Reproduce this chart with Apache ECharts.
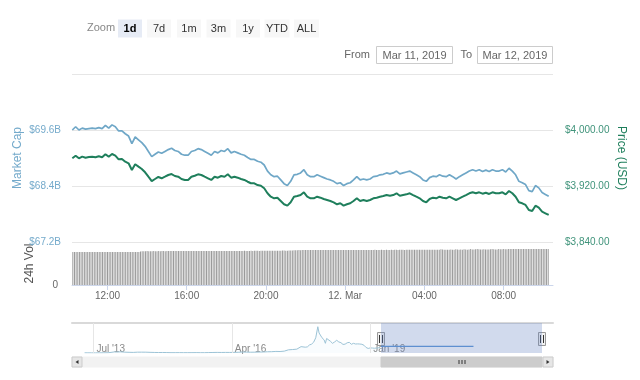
<!DOCTYPE html>
<html><head><meta charset="utf-8">
<script src="https://cdn.jsdelivr.net/npm/echarts@6/dist/echarts.min.js"></script>
<style>html,body{margin:0;padding:0;background:#fff;}#c{width:640px;height:380px;}</style>
</head><body><div id="c"></div>
<script>
// ---------- DATA ----------
const seriesStartUTC = [2019, 2, 11, 10, 15]; // Mar 11 2019 10:15 UTC
const lineStepMin = 10;
const volStepMin = 5;
const axisRangeUTC = [[2019, 2, 11, 10, 14], [2019, 2, 12, 10, 28]];

const priceUSD = [
3959.6,3963.3,3959.6,3961.9,3960.4,3961.4,3961.9,3961.0,3962.4,3961.0,3965.3,3961.9,
3965.7,3963.3,3958.1,3958.6,3954.7,3952.4,3942.9,3951.0,3947.6,3944.3,3939.6,3933.3,
3927.1,3930.0,3932.9,3931.0,3933.3,3935.7,3937.1,3934.3,3933.3,3930.0,3928.6,3928.6,
3933.3,3934.7,3936.7,3935.7,3933.3,3931.0,3928.6,3933.3,3931.9,3934.3,3933.3,3936.7,
3931.9,3933.3,3931.9,3930.0,3928.6,3926.1,3923.9,3923.9,3921.4,3920.4,3916.7,3909.6,
3904.7,3902.4,3903.3,3898.6,3893.9,3891.9,3896.7,3904.7,3905.7,3907.1,3911.0,3904.7,
3902.4,3902.4,3904.7,3903.3,3901.4,3900.0,3898.6,3896.7,3893.9,3895.3,3891.9,3893.9,
3895.3,3898.6,3902.4,3898.6,3900.0,3898.6,3900.0,3902.4,3903.3,3904.7,3905.7,3907.1,
3906.1,3907.1,3909.6,3906.1,3907.1,3908.1,3909.6,3907.1,3904.7,3902.4,3898.6,3896.7,
3901.4,3903.3,3902.4,3904.7,3903.3,3902.4,3904.7,3902.4,3900.0,3902.4,3904.7,3907.1,
3909.6,3911.0,3909.6,3911.0,3909.0,3910.4,3908.6,3911.0,3909.6,3909.6,3911.0,3908.1,
3912.9,3909.6,3904.7,3896.7,3895.3,3892.9,3885.7,3884.3,3891.9,3889.0,3883.3,3881.0,
3878.6];

const marketCapB = [
69.60,69.67,69.60,69.64,69.62,69.63,69.64,69.63,69.65,69.63,69.70,69.64,
69.71,69.67,69.58,69.58,69.52,69.47,69.31,69.45,69.39,69.33,69.25,69.14,
69.03,69.08,69.13,69.10,69.14,69.18,69.21,69.16,69.14,69.08,69.06,69.06,
69.14,69.16,69.20,69.18,69.14,69.10,69.06,69.14,69.11,69.16,69.14,69.20,
69.11,69.14,69.11,69.08,69.06,69.01,68.97,68.97,68.93,68.91,68.85,68.72,
68.64,68.60,68.61,68.53,68.45,68.41,68.50,68.64,68.65,68.68,68.75,68.64,
68.60,68.60,68.64,68.61,68.58,68.55,68.53,68.50,68.45,68.47,68.41,68.45,
68.47,68.53,68.60,68.53,68.55,68.53,68.55,68.60,68.61,68.64,68.65,68.68,
68.66,68.68,68.72,68.66,68.68,68.70,68.72,68.68,68.64,68.60,68.53,68.50,
68.58,68.61,68.60,68.64,68.61,68.60,68.64,68.60,68.55,68.60,68.64,68.68,
68.72,68.75,68.72,68.75,68.71,68.74,68.71,68.75,68.72,68.72,68.75,68.70,
68.78,68.72,68.64,68.50,68.47,68.43,68.30,68.28,68.41,68.36,68.26,68.22,
68.18];

const volumeB = [
9.18,9.19,9.18,9.20,9.19,9.18,9.19,9.20,9.19,9.18,9.19,9.20,
9.19,9.20,9.18,9.19,9.20,9.19,9.18,9.19,9.20,9.19,9.18,9.19,
9.20,9.19,9.18,9.19,9.20,9.21,9.20,9.19,9.20,9.21,9.20,9.19,
9.20,9.21,9.20,9.22,9.20,9.38,9.42,9.45,9.44,9.46,9.45,9.44,
9.45,9.46,9.44,9.45,9.46,9.45,9.47,9.46,9.45,9.46,9.47,9.46,
9.46,9.47,9.46,9.48,9.47,9.46,9.47,9.48,9.47,9.48,9.46,9.47,
9.48,9.47,9.48,9.49,9.48,9.47,9.48,9.49,9.48,9.49,9.50,9.48,
9.49,9.50,9.49,9.48,9.50,9.49,9.50,9.51,9.50,9.49,9.50,9.51,
9.50,9.51,9.52,9.51,9.50,9.52,9.51,9.52,9.53,9.52,9.51,9.52,
9.53,9.52,9.53,9.54,9.53,9.52,9.54,9.53,9.54,9.55,9.54,9.53,
9.55,9.56,9.55,9.57,9.56,9.58,9.57,9.62,9.60,9.58,9.59,9.60,
9.61,9.62,9.68,9.72,9.70,9.74,9.73,9.74,9.75,9.74,9.76,9.75,
9.76,9.75,9.77,9.76,9.75,9.77,9.76,9.78,9.77,9.76,9.77,9.78,
9.77,9.78,9.77,9.79,9.78,9.77,9.78,9.79,9.78,9.77,9.79,9.78,
9.78,9.79,9.78,9.77,9.79,9.78,9.80,9.79,9.78,9.79,9.80,9.79,
9.79,9.80,9.79,9.81,9.80,9.79,9.80,9.81,9.80,9.79,9.81,9.80,
9.80,9.81,9.80,9.82,9.81,9.80,9.81,9.82,9.81,9.80,9.82,9.81,
9.81,9.82,9.81,9.83,9.82,9.81,9.82,9.83,9.82,9.81,9.83,9.82,
9.83,9.82,9.84,9.83,9.82,9.84,9.83,9.95,9.88,9.84,9.86,9.85,
9.86,9.92,9.87,9.85,9.96,9.88,9.86,9.90,9.87,9.98,9.89,9.87,
9.90,10.02,9.92,9.88,9.95,10.05,9.96,9.90,9.93,9.97,9.91,9.89,
9.92,9.96,10.03,9.98,9.94,9.90,10.05,9.99,9.96,10.04,10.00,9.97,
10.02,10.05,10.03,10.06,10.04,10.02,10.05,10.07,10.04,10.03,10.06,10.05,
10.04,10.06,10.05,10.07,10.05,10.04,10.06,10.05,10.07,10.06,10.05,10.06,
10.06];

const monthNames = ['Jan','Feb','Mar','Apr','May','Jun','Jul','Aug','Sep','Oct','Nov','Dec'];
const zoomButtons = ['1d','7d','1m','3m','1y','YTD','ALL'];
const selectedButton = '1d';
const fromDate = 'Mar 11, 2019';
const toDate = 'Mar 12, 2019';

// navigator: months since Jan 2013 and BTC price (USD)
const navMonths = [3.9,4.5,5.5,6.5,7.5,8.5,9.5,10.2,10.6,11.0,11.5,12.5,13.5,14.5,15.5,16.5,17.5,18.5,19.5,20.5,
21.5,22.5,23.5,24.5,25.5,26.5,27.5,28.5,29.5,30.5,31.5,32.5,33.5,34.5,35.5,36.5,37.5,38.5,39.5,40.5,
41.5,42.5,43.5,44.5,45.5,46.5,47.5,48.5,49.5,50.5,51.5,52.5,53.5,54.5,55.5,56.5,57.0,57.5,58.0,58.5,
59.0,59.5,59.8,60.0,60.5,61.0,61.3,61.6,62.0,62.5,63.0,63.5,64.0,64.5,65.0,65.5,66.0,66.5,67.0,67.5,
68.0,68.5,69.0,69.5,70.0,70.5,71.0,71.5,72.0,72.5,73.0,73.5,74.0,74.35];
const navPrice = [135,120,100,90,115,130,190,450,1100,800,700,850,600,500,440,600,620,590,480,400,
350,375,320,230,245,260,230,240,245,285,235,236,310,380,430,390,420,415,450,530,
680,640,575,610,700,740,900,950,1150,1080,1350,2300,2500,2800,4600,4200,4400,5800,6400,7800,
11000,19000,14500,13800,11000,9500,7000,10500,10300,8500,7000,8000,9200,8000,7500,6200,6400,7400,7700,6300,
7000,6500,6600,6500,6300,5600,4000,3300,3700,3600,3450,3600,3800,3900];
const navRecentMonths = [74.56, 96.6];
const navRecentPrice = [4800, 4800];
const navTickMonths = [6, 39, 72];
const navTickLabels = ["Jul '13", "Apr '16", "Jan '19"];
const navSelection = [74.56, 112.94];
const navRange = [0.9, 115.56];

// ---------- BUILD ----------
const t0 = Date.UTC.apply(null, seriesStartUTC);
const priceData = priceUSD.map((v, i) => [t0 + i * lineStepMin * 60000, v]);
const mcapData = marketCapB.map((v, i) => [t0 + i * lineStepMin * 60000, v]);
const volData = volumeB.map((v, i) => [t0 + i * volStepMin * 60000, v]);
const tMin = Date.UTC.apply(null, axisRangeUTC[0]);
const tMax = Date.UTC.apply(null, axisRangeUTC[1]);
const navData = navMonths.map((m, i) => [m, navPrice[i]]);
const navRecent = navRecentMonths.map((m, i) => [m, navRecentPrice[i]]);

const FONT = '"Liberation Sans", Arial, sans-serif';
const BLUE = '#6fa7c7';
const GREEN = '#1f7f5c';
const BLUE_LBL = '#74aacb';
const GREEN_LBL = '#3f937a';
const FOUR_H = 4 * 3600 * 1000;

const chart = echarts.init(document.getElementById('c'), null, {renderer: 'canvas'});

const option = {
  animation: false,
  useUTC: true,
  backgroundColor: '#ffffff',
  textStyle: {fontFamily: FONT},
  grid: [
    {left: 72, right: 87, top: 74, height: 168},
    {left: 72, right: 87, top: 242, height: 43},
    {left: 72, right: 87, top: 323, height: 30}
  ],
  xAxis: [
    {type: 'time', gridIndex: 0, min: tMin, max: tMax,
     axisLine: {show: false}, axisTick: {show: false}, axisLabel: {show: false}, splitLine: {show: false}},
    {type: 'time', gridIndex: 1, min: tMin, max: tMax, minInterval: FOUR_H, maxInterval: FOUR_H,
     axisLine: {show: true, lineStyle: {color: '#ccd6eb'}},
     axisTick: {show: true, length: 5, lineStyle: {color: '#ccd6eb'}},
     splitLine: {show: false}, minorTick: {show: false},
     axisLabel: {color: '#666', fontSize: 10, fontFamily: FONT, margin: 6, showMinLabel: false, showMaxLabel: false,
       formatter: function (v) {
         const d = new Date(v);
         const h = d.getUTCHours();
         if (h === 0) return d.getUTCDate() + '. ' + monthNames[d.getUTCMonth()];
         return String(h).padStart(2, '0') + ':00';
       }}},
    {type: 'value', gridIndex: 2, min: navRange[0], max: navRange[1],
     axisLine: {show: false}, axisTick: {show: false}, splitLine: {show: false},
     axisLabel: {show: true, inside: true, customValues: navTickMonths, align: 'left', padding: [0, 0, 0, 3],
       verticalAlign: 'middle', margin: 4, color: '#888', fontSize: 10, fontFamily: FONT,
       formatter: function (v) { const k = navTickMonths.indexOf(v); return k >= 0 ? navTickLabels[k] : ''; }}},
    {type: 'value', gridIndex: 2, position: 'top', min: navRange[0], max: navRange[1],
     axisLine: {show: true, onZero: false, lineStyle: {color: '#d9d9d9', width: 2}},
     axisTick: {show: false}, axisLabel: {show: false}, splitLine: {show: false}}
  ],
  yAxis: [
    {type: 'value', gridIndex: 0, position: 'left', min: 67.2, max: 70.8, interval: 1.2,
     axisLine: {show: false}, axisTick: {show: false},
     splitLine: {show: true, lineStyle: {color: '#e6e6e6'}},
     axisLabel: {color: BLUE_LBL, fontSize: 10, fontFamily: FONT, margin: 11, showMaxLabel: false,
       padding: [0, 0, 10, 0], formatter: v => '$' + v.toFixed(1) + 'B'},
     name: 'Market Cap', nameLocation: 'middle', nameGap: 48, nameRotate: 90, nameMoveOverlap: false,
     nameTextStyle: {color: BLUE_LBL, fontSize: 12, fontFamily: FONT}},
    {type: 'value', gridIndex: 0, position: 'right', min: 3840, max: 4080, interval: 80,
     axisLine: {show: false}, axisTick: {show: false}, splitLine: {show: false},
     axisLabel: {color: GREEN_LBL, fontSize: 10, fontFamily: FONT, margin: 12, showMaxLabel: false,
       padding: [0, 0, 10, 0],
       formatter: v => '$' + v.toLocaleString('en-US', {minimumFractionDigits: 2, maximumFractionDigits: 2})},
     name: 'Price (USD)', nameLocation: 'middle', nameGap: 62, nameRotate: -90, nameMoveOverlap: false,
     nameTextStyle: {color: GREEN, fontSize: 12, fontFamily: FONT}},
    {type: 'value', gridIndex: 1, position: 'left', min: 0, max: 12, interval: 12,
     axisLine: {show: false}, axisTick: {show: false},
     splitLine: {show: true, lineStyle: {color: '#e6e6e6'}},
     axisLabel: {color: '#666', fontSize: 10, fontFamily: FONT, margin: 14, showMaxLabel: false,
       padding: [0, 0, 8, 0], formatter: v => (v === 0 ? '0' : '')},
     name: '24h Vol', nameLocation: 'middle', nameGap: 36, nameRotate: 90, nameMoveOverlap: false,
     nameTextStyle: {color: '#555', fontSize: 12, fontFamily: FONT}},
    {type: 'value', gridIndex: 2, min: 0, max: 21700, show: false}
  ],
  series: [
    {name: 'Market Cap', type: 'line', xAxisIndex: 0, yAxisIndex: 0, data: mcapData,
     showSymbol: false, lineStyle: {color: BLUE, width: 1.7}, itemStyle: {color: BLUE}, z: 3},
    {name: 'Price', type: 'line', xAxisIndex: 0, yAxisIndex: 1, data: priceData,
     showSymbol: false, lineStyle: {color: GREEN, width: 2}, itemStyle: {color: GREEN}, z: 4},
    {name: '24h Vol', type: 'bar', xAxisIndex: 1, yAxisIndex: 2, data: volData,
     barWidth: 1, itemStyle: {color: '#9a9a9a'}},
    {name: 'Navigator', type: 'line', xAxisIndex: 2, yAxisIndex: 3, data: navData,
     showSymbol: false, lineStyle: {color: '#9cc3d6', width: 1}, areaStyle: {color: 'rgba(124,181,236,0.06)'},
     markLine: {silent: true, symbol: 'none', label: {show: false},
       lineStyle: {color: '#e6e6e6', width: 1, type: 'solid'},
       data: navTickMonths.map(m => ({xAxis: m}))},
     markArea: {silent: true, itemStyle: {color: 'rgba(102,133,194,0.3)'},
       data: [[{xAxis: navSelection[0]}, {xAxis: navSelection[1]}]]}},
    {name: 'NavRecent', type: 'line', xAxisIndex: 2, yAxisIndex: 3, data: navRecent,
     showSymbol: false, lineStyle: {color: '#5e8fd0', width: 1.2}}
  ]
};
chart.setOption(option);

// ---------- UI decorations (range selector, inputs, navigator handles, scrollbar) ----------
const g = [];
g.push({type: 'text', left: 87, top: 22, style: {text: 'Zoom', fill: '#888', font: '11px ' + FONT}});
const btnCenters = [130, 159, 189, 218.5, 248, 277, 306.5];
zoomButtons.forEach((b, i) => {
  const sel = b === selectedButton;
  const w = b.length > 2 ? 25 : 24;
  g.push({type: 'rect', shape: {x: btnCenters[i] - w / 2, y: 19.5, width: w, height: 18, r: 0},
          style: {fill: sel ? '#e6ebf5' : '#f7f7f7'}});
  g.push({type: 'text', x: btnCenters[i], y: 28.5,
          style: {text: b, fill: sel ? '#000' : '#333', font: (sel ? 'bold ' : '') + '11px ' + FONT,
                  align: 'center', verticalAlign: 'middle'}});
});
g.push({type: 'text', x: 370, y: 55, style: {text: 'From', fill: '#666', font: '11px ' + FONT, align: 'right', verticalAlign: 'middle'}});
g.push({type: 'rect', shape: {x: 376.5, y: 46.5, width: 76, height: 17}, style: {fill: '#fff', stroke: '#cccccc', lineWidth: 1}});
g.push({type: 'text', x: 414.5, y: 55.5, style: {text: fromDate, fill: '#666', font: '11px ' + FONT, align: 'center', verticalAlign: 'middle'}});
g.push({type: 'text', x: 472, y: 55, style: {text: 'To', fill: '#666', font: '11px ' + FONT, align: 'right', verticalAlign: 'middle'}});
g.push({type: 'rect', shape: {x: 477.5, y: 46.5, width: 75, height: 17}, style: {fill: '#fff', stroke: '#cccccc', lineWidth: 1}});
g.push({type: 'text', x: 515, y: 55.5, style: {text: toDate, fill: '#666', font: '11px ' + FONT, align: 'center', verticalAlign: 'middle'}});

const sx0 = chart.convertToPixel({xAxisIndex: 2}, navSelection[0]);
const sx1 = chart.convertToPixel({xAxisIndex: 2}, navSelection[1]);
const gx0 = chart.convertToPixel({xAxisIndex: 2}, navRange[0]);
const gx1 = chart.convertToPixel({xAxisIndex: 2}, navRange[1]);
// scrollbar
const sbY = 357, sbH = 10;
g.push({type: 'rect', shape: {x: gx0, y: sbY, width: gx1 - gx0, height: sbH}, style: {fill: '#f2f2f2', stroke: '#f2f2f2'}});
g.push({type: 'rect', shape: {x: sx0, y: sbY, width: sx1 - sx0, height: sbH}, style: {fill: '#cccccc', stroke: '#cccccc'}});
const mid = (sx0 + sx1) / 2;
[-3, 0, 3].forEach(d => g.push({type: 'line', shape: {x1: mid + d + 0.5, y1: sbY + 3, x2: mid + d + 0.5, y2: sbY + 7}, style: {stroke: '#333', lineWidth: 1}}));
g.push({type: 'rect', shape: {x: gx0, y: sbY, width: 10, height: sbH}, style: {fill: '#e6e6e6', stroke: '#cccccc', lineWidth: 1}});
g.push({type: 'polygon', shape: {points: [[gx0 + 6.5, sbY + 3], [gx0 + 3.5, sbY + 5], [gx0 + 6.5, sbY + 7]]}, style: {fill: '#333'}});
g.push({type: 'rect', shape: {x: gx1 - 10, y: sbY, width: 10, height: sbH}, style: {fill: '#e6e6e6', stroke: '#cccccc', lineWidth: 1}});
g.push({type: 'polygon', shape: {points: [[gx1 - 6.5, sbY + 3], [gx1 - 3.5, sbY + 5], [gx1 - 6.5, sbY + 7]]}, style: {fill: '#333'}});
// navigator handles
[sx0, sx1].forEach(x => {
  g.push({type: 'rect', shape: {x: Math.round(x) - 3.5, y: 332.5, width: 7, height: 13}, style: {fill: '#f2f2f2', stroke: '#999', lineWidth: 1}});
  g.push({type: 'line', shape: {x1: Math.round(x) - 1.5, y1: 335, x2: Math.round(x) - 1.5, y2: 343}, style: {stroke: '#333', lineWidth: 1}});
  g.push({type: 'line', shape: {x1: Math.round(x) + 1.5, y1: 335, x2: Math.round(x) + 1.5, y2: 343}, style: {stroke: '#333', lineWidth: 1}});
});
chart.setOption({graphic: g});
</script></body></html>
